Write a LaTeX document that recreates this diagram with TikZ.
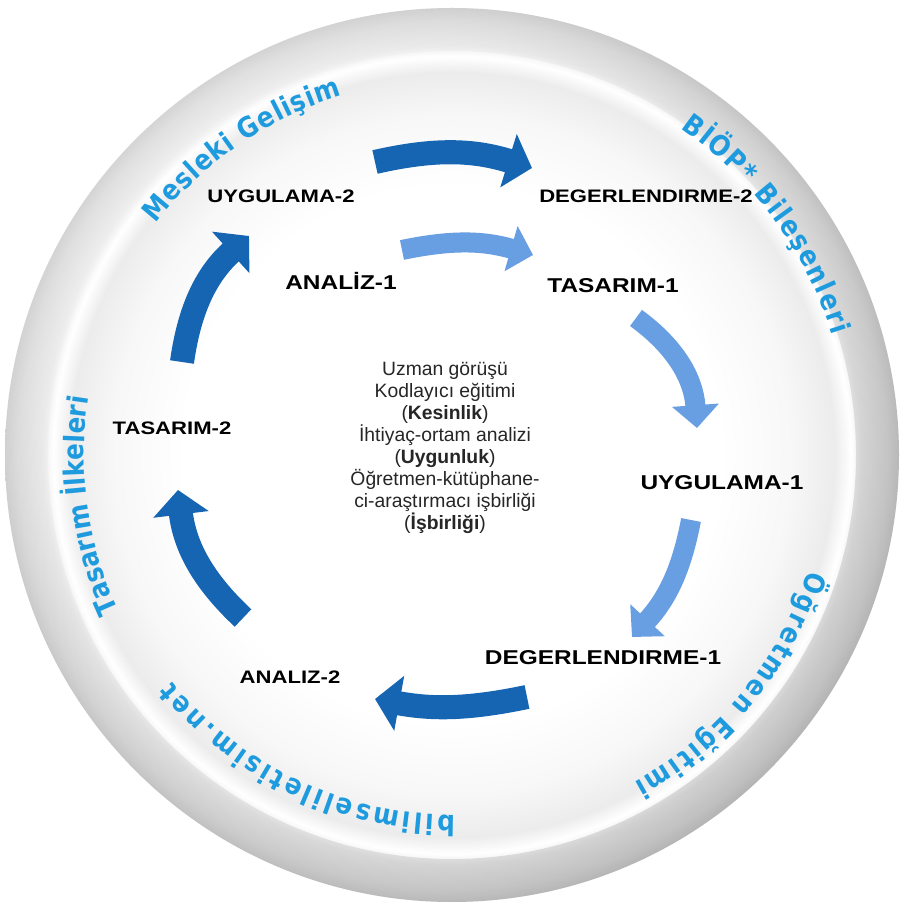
\documentclass[tikz,border=0pt]{standalone}
\usepackage{fontspec}
\usepackage{xcolor}
\setmainfont{Liberation Sans}
\newfontfamily\stagefont{Liberation Sans}[FakeStretch=1.22]
\newfontfamily\ringfont{DejaVu Sans}[FakeStretch=0.88]
\usetikzlibrary{arrows.meta, decorations.text}

\definecolor{cycleblue}{RGB}{22,101,178}
\definecolor{paleblue}{RGB}{104,158,226}
\definecolor{ringblue}{RGB}{30,155,222}
\newcommand{\ringfmt}{\ringfont\bfseries\fontsize{16}{17}\selectfont\color{ringblue}}

% silver ring: white centre, grey band with a light line (25bp = disk edge)
\pgfdeclareradialshading{ringshade}{\pgfpoint{0bp}{0bp}}{color(0bp)=(white); color(15bp)=(white); color(19bp)=(gray!6); color(21.4bp)=(gray!15); color(22.3bp)=(white); color(22.9bp)=(gray!14); color(24.3bp)=(gray!27); color(25bp)=(gray!38); color(50bp)=(gray!38)}

\begin{document}
\begin{tikzpicture}[x=0.02cm, y=0.02cm,
    stage/.style={font=\stagefont\bfseries\fontsize{10.3}{12}\selectfont, inner sep=0pt, anchor=base},
    bigstage/.style={stage, font=\stagefont\bfseries\fontsize{11.4}{13}\selectfont},
    darkarrow/.style={line width=13.7pt, draw=cycleblue, -{Triangle[width=31pt, length=14pt]}},
    lightarrow/.style={line width=11.4pt, draw=paleblue, -{Triangle[width=26pt, length=13pt]}},
    ringtext/.style={decorate, decoration={text along path, text align=fit to path}}]

    % Background and disk
    \useasboundingbox (0,0) rectangle (905,906);
    \fill[white] (0,0) rectangle (905,906);
    \coordinate (c) at (452,451);
    \shade[shading=ringshade] (c) circle[radius=447];
    % darker band to the lower right
    \shade[even odd rule, fill opacity=0.13, top color=white, bottom color=black,
        shading angle=45] (c) circle[radius=447] (c) circle[radius=404];

    % Text round the ring
    \path[ringtext, decoration={text={|\ringfmt|Mesleki Gelişim}}]
        (c) ++(142:376) arc[start angle=142, end angle=107, radius=376];
    \path[ringtext, decoration={text={|\ringfmt|BİÖP* Bileşenleri}}]
        (c) ++(55:399) arc[start angle=55, end angle=17.5, radius=399];
    \path[ringtext, decoration={text={|\ringfmt|Öğretmen Eğitimi}}]
        (c) ++(-18:375) arc[start angle=-18, end angle=-61, radius=375];
    \path[ringtext, decoration={text={|\ringfmt|bilimseliletisim.net}}]
        (c) ++(-89.5:360) arc[start angle=-89.5, end angle=-141, radius=360];
    \path[ringtext, decoration={text={|\ringfmt|Tasarım İlkeleri}}]
        (c) ++(205:368) arc[start angle=205, end angle=171, radius=368];

    % Stage labels
    \node[stage] (uy2) at (281,703) {UYGULAMA-2};
    \node[stage] (de2) at (646,703) {DEGERLENDIRME-2};
    \node[bigstage] (an1) at (341,616) {ANALİZ-1};
    \node[bigstage] (ta1) at (613,613) {TASARIM-1};
    \node[bigstage] (uy1) at (722,416) {UYGULAMA-1};
    \node[bigstage] (de1) at (603,241) {DEGERLENDIRME-1};
    \node[stage] (an2) at (290,222) {ANALIZ-2};
    \node[stage] (ta2) at (172,471) {TASARIM-2};

    % Centre text
    \node[align=center, font=\fontsize{11}{12.5}\selectfont, text=black!85] (info) at (445,458)
        {Uzman görüşü\\ Kodlayıcı eğitimi\\ (\textbf{Kesinlik})\\ İhtiyaç-ortam analizi\\
         (\textbf{Uygunluk})\\ Öğretmen-kütüphane-\\ ci-araştırmacı işbirliği\\ (\textbf{İşbirliği})};

    % Arrow ends
    \coordinate (e1) at (402,656); \coordinate (f1) at (533,651);
    \coordinate (e2) at (636,588); \coordinate (f2) at (697,478);
    \coordinate (e3) at (691,386); \coordinate (f3) at (632,269);
    \coordinate (e4) at (527,209); \coordinate (f4) at (375,207);
    \coordinate (e5) at (243,288); \coordinate (f5) at (178,416);
    \coordinate (e6) at (182,544); \coordinate (f6) at (249,670);
    \coordinate (e7) at (375,744); \coordinate (f7) at (532,738);

    % First cycle (light)
    \draw[lightarrow] (e1) to[bend left=14] (f1);
    \draw[lightarrow] (e2) to[bend left=25] (f2);
    \draw[lightarrow] (e3) to[bend left=16] (f3);

    % Second cycle (dark)
    \draw[darkarrow] (e4) to[bend left=11] (f4);
    \draw[darkarrow] (e5) to[bend left=20] (f5);
    \draw[darkarrow] (e6) to[bend left=20] (f6);
    \draw[darkarrow] (e7) to[bend left=15] (f7);
\end{tikzpicture}
\end{document}
